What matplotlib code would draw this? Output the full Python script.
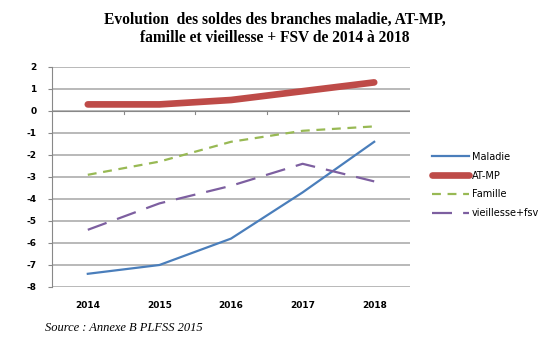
import matplotlib
matplotlib.use("Agg")
import matplotlib.pyplot as plt
import numpy as np

years = ["2014", "2015", "2016", "2017", "2018"]
maladie = [-7.4, -7.0, -5.8, -3.7, -1.4]
atmp = [0.3, 0.3, 0.5, 0.9, 1.3]
famille = [-2.9, -2.3, -1.4, -0.9, -0.7]
vieillesse = [-5.4, -4.2, -3.4, -2.4, -3.2]
yticks = list(range(-8, 3))

fig = plt.figure(figsize=(5.5, 3.49), dpi=100)
ax = fig.add_axes([52/550, 1-287/349, (410-52)/550, (287-67)/349])

x = np.arange(len(years))
ax.plot(x, maladie, color="#4A7EBB", lw=1.6, label="Maladie")
ax.plot(x, atmp, color="#BE4B48", lw=4.8, solid_capstyle="round", label="AT-MP")
ax.plot(x, famille, color="#98B954", lw=1.6, dashes=(4, 3), label="Famille")
ax.plot(x, vieillesse, color="#7D5FA0", lw=1.6, dashes=(9, 5), label="vieillesse+fsv")

ax.set_xlim(-0.5, len(years) - 0.5)
ax.set_ylim(-8, 2)
ax.set_yticks(yticks)
ax.set_yticklabels([str(v) for v in yticks], fontsize=6.5, fontweight="bold")
ax.set_xticks(x)
ax.set_xticklabels(years, fontsize=6.5, fontweight="bold")
ax.tick_params(axis="x", length=0, pad=10)
ax.tick_params(axis="y", length=3, width=0.8, color="#888888", pad=8)

ax.grid(axis="y", color="#A6A6A6", lw=1.1)
ax.set_axisbelow(True)
for s in ["top", "right", "bottom"]:
    ax.spines[s].set_visible(False)
ax.spines["left"].set_color("#888888")
ax.spines["left"].set_linewidth(0.8)
# category axis at y=0
ax.axhline(0, color="#888888", lw=0.8, zorder=1)
for b in np.arange(0.5, len(years) - 0.5, 1.0):
    ax.plot([b, b], [0, -0.12], color="#888888", lw=0.8, zorder=1)

leg = fig.legend(loc="upper left", bbox_to_anchor=(423/550, 1-143/349), frameon=False,
                 fontsize=7, handlelength=3.8, labelspacing=0.9, handletextpad=0.3)

fig.text(0.5, 1-20/349, "Evolution  des soldes des branches maladie, AT-MP,",
         ha="center", va="center", family="Liberation Serif", fontweight="bold", fontsize=11.2)
fig.text(0.5, 1-38/349, "famille et vieillesse + FSV de 2014 à 2018",
         ha="center", va="center", family="Liberation Serif", fontweight="bold", fontsize=11.2)
fig.text(45/550, 1-328/349, "Source : Annexe B PLFSS 2015", ha="left", va="center",
         family="Liberation Serif", style="italic", fontsize=9)

fig.savefig("out.png", dpi=100)
